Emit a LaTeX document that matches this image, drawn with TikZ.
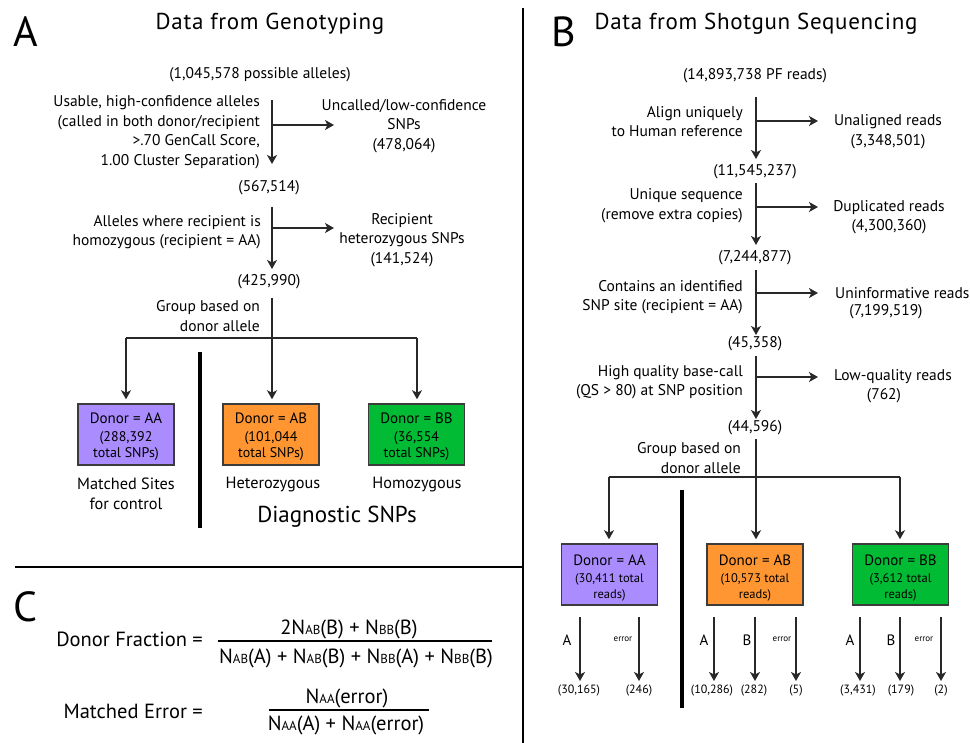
\documentclass[tikz,border=0pt]{standalone}
\usepackage{fontspec}
\setmainfont{PT Sans}
\usetikzlibrary{arrows.meta}
\definecolor{linec}{RGB}{40,40,40}
\definecolor{boxpurple}{RGB}{170,140,255}
\definecolor{boxorange}{RGB}{255,150,50}
\definecolor{boxgreen}{RGB}{0,187,51}
\definecolor{boxedge}{RGB}{60,60,60}
\newcommand\Nsb[1]{N{\fontsize{13}{13}\selectfont #1}}
\begin{document}
\begin{tikzpicture}[x=1pt,y=-1pt,
  txt/.style={font=\fontsize{15.5}{19.5}\selectfont, inner sep=0pt, text=black},
  ltxt/.style={txt, anchor=east, align=right},
  ctxt/.style={txt, align=center},
  small/.style={font=\fontsize{12}{15}\selectfont, inner sep=0pt},
  tiny/.style={font=\fontsize{9}{10}\selectfont, inner sep=0pt},
  big/.style={font=\fontsize{42}{44}\selectfont, inner sep=0pt, anchor=base},
  title/.style={font=\fontsize{23}{26}\selectfont\addfontfeature{LetterSpace=3}, inner sep=0pt, anchor=base},
  frm/.style={font=\fontsize{20.5}{24}\selectfont, inner sep=0pt},
  ln/.style={draw=linec, line width=1.4pt},
  arr/.style={ln, -{Stealth[length=9pt,width=10pt,inset=2.5pt]}},
  sep/.style={draw=black, line width=2.4pt},
  bar/.style={draw=black, line width=4pt},
  fbar/.style={draw=black, line width=1.2pt},
  donor/.style={draw=boxedge, line width=1.5pt, minimum width=96pt, minimum height=61pt, inner sep=0pt},
  dlab/.style={font=\fontsize{15}{17}\selectfont, inner sep=0pt},
  dsub/.style={font=\fontsize{14}{16}\selectfont, inner sep=0pt, align=center},
  dsubb/.style={font=\fontsize{12.5}{16}\selectfont, inner sep=0pt, align=center},
  under/.style={font=\fontsize{16.3}{19.5}\selectfont, inner sep=0pt, align=center}
]
\useasboundingbox (0,0) rectangle (970,743);

% ---------- separators ----------
\coordinate (vsT) at (523,8);
\coordinate (vsB) at (523,743);
\coordinate (hsL) at (15,567);
\coordinate (hsR) at (523,567);
\draw[sep] (vsT) -- (vsB);
\draw[sep] (hsL) -- (hsR);

% ================= PANEL A =================
\node[big] (lA) at (26,47) {A};
\node[title] (tA) at (270,30) {Data from Genotyping};
\node[txt] (a0) at (260,75) {(1,045,578 possible alleles)};

\coordinate (a1s) at (272,100);
\coordinate (a1e) at (272,164);
\coordinate (a1b) at (272,125);
\coordinate (a1r) at (334,125);
\draw[arr] (a1s) -- (a1e);
\draw[arr] (a1b) -- (a1r);
\node[ltxt] (a1l) at (260,132) {Usable, high-confidence alleles\\(called in both donor/recipient\\>.70 GenCall Score,\\1.00 Cluster Separation)};
\node[ctxt] (a1x) at (404,126) {Uncalled/low-confidence\\SNPs\\(478,064)};

\node[txt] (a1n) at (269,188) {(567,514)};

\coordinate (a2s) at (272,207);
\coordinate (a2e) at (272,269);
\coordinate (a2b) at (272,228);
\coordinate (a2r) at (334,228);
\draw[arr] (a2s) -- (a2e);
\draw[arr] (a2b) -- (a2r);
\node[ltxt] (a2l) at (261,232) {Alleles where recipient is\\homozygous (recipient = AA)};
\node[ctxt] (a2x) at (402,240) {Recipient\\heterozygous SNPs\\(141,524)};

\node[txt] (a2n) at (269,282) {(425,990)};

\coordinate (a3s) at (272,298);
\coordinate (a3L) at (126,338);
\coordinate (a3R) at (417,338);
\node[ltxt] (a3l) at (260,316) {Group based on\\donor allele};

\node[donor, fill=boxpurple] (aAA) at (126,434.5) {};
\node[donor, fill=boxorange] (aAB) at (271,434.5) {};
\node[donor, fill=boxgreen]  (aBB) at (416.5,434.5) {};
\draw[ln] (a3L) -- (a3R);
\draw[arr] (a3s) -- ([yshift=4pt]aAB.north -| a3s);
\draw[arr] (a3L) -- ([yshift=4pt]aAA.north -| a3L);
\draw[arr] (a3R) -- ([yshift=4pt]aBB.north -| a3R);

\node[dlab] (aAAt) at (126,418) {Donor = AA};
\node[dsub] (aAAs) at (126,446) {(288,392\\total SNPs)};
\node[dlab] (aABt) at (271,418) {Donor = AB};
\node[dsub] (aABs) at (271,446) {(101,044\\total SNPs)};
\node[dlab] (aBBt) at (416.5,418) {Donor = BB};
\node[dsub] (aBBs) at (416.5,446) {(36,554\\total SNPs)};

\node[under] (aMS) at (126,494) {Matched Sites\\for control};
\node[under] (aHet) at (273,485) {Heterozygous};
\node[under] (aHom) at (417,485) {Homozygous};
\node[font=\fontsize{23}{25}\selectfont, inner sep=0pt] (aDiag) at (337,517) {Diagnostic SNPs};

\coordinate (abT) at (200,352);
\coordinate (abB) at (200,528);
\draw[bar] (abT) -- (abB);

% ================= PANEL C =================
\node[big] (lC) at (25,621) {C};
\node[frm, anchor=east] (cDF) at (203,639) {Donor Fraction =};
\coordinate (cb1L) at (218,641);
\coordinate (cb1R) at (492,641);
\draw[fbar] (cb1L) -- (cb1R);
\node[frm] (cN1) at (349,629) {2\Nsb{AB}(B) + \Nsb{BB}(B)};
\node[frm] (cD1) at (356,658) {\Nsb{AB}(A) + \Nsb{AB}(B) + \Nsb{BB}(A) + \Nsb{BB}(B)};

\node[frm, anchor=east] (cME) at (203,711) {Matched Error =};
\coordinate (cb2L) at (269,710);
\coordinate (cb2R) at (429,710);
\draw[fbar] (cb2L) -- (cb2R);
\node[frm] (cN2) at (347,698) {\Nsb{AA}(error)};
\node[frm] (cD2) at (346,725) {\Nsb{AA}(A) + \Nsb{AA}(error)};

% ================= PANEL B =================
\node[big] (lB) at (564,47) {B};
\node[title] (tB) at (756,30) {Data from Shotgun Sequencing};
\node[txt] (b0) at (755,76) {(14,893,738 PF reads)};

% seg 1
\coordinate (b1s) at (756,97);
\coordinate (b1e) at (756,159);
\coordinate (b1b) at (756,121);
\coordinate (b1r) at (818,121);
\draw[arr] (b1s) -- (b1e);
\draw[arr] (b1b) -- (b1r);
\node[ltxt] (b1l) at (743,121.5) {Align uniquely\\to Human reference};
\node[ctxt] (b1x) at (888,131.5) {Unaligned reads\\(3,348,501)};
\node[txt] (b1n) at (755,172) {(11,545,237)};

% seg 2
\coordinate (b2s) at (756,183);
\coordinate (b2e) at (756,245);
\coordinate (b2b) at (756,207);
\coordinate (b2r) at (818,207);
\draw[arr] (b2s) -- (b2e);
\draw[arr] (b2b) -- (b2r);
\node[ltxt] (b2l) at (743,205.5) {Unique sequence\\(remove extra copies)};
\node[ctxt] (b2x) at (889,217) {Duplicated reads\\(4,300,360)};
\node[txt] (b2n) at (755,258) {(7,244,877)};

% seg 3
\coordinate (b3s) at (756,270);
\coordinate (b3e) at (756,335);
\coordinate (b3b) at (756,293);
\coordinate (b3r) at (818,293);
\draw[arr] (b3s) -- (b3e);
\draw[arr] (b3b) -- (b3r);
\node[ltxt] (b3l) at (743,297) {Contains an identified\\SNP site (recipient = AA)};
\node[txt, anchor=west] (b3x) at (835,293) {Uninformative reads};
\node[txt] (b3y) at (886,312) {(7,199,519)};
\node[txt] (b3n) at (755,344) {(45,358)};

% seg 4
\coordinate (b4s) at (756,356);
\coordinate (b4e) at (756,419);
\coordinate (b4b) at (756,377);
\coordinate (b4r) at (818,377);
\draw[arr] (b4s) -- (b4e);
\draw[arr] (b4b) -- (b4r);
\node[ltxt] (b4l) at (743,382) {High quality base-call\\(QS > 80) at SNP position};
\node[txt] (b4x) at (893,377) {Low-quality reads};
\node[txt] (b4y) at (884,396) {(762)};
\node[txt] (b4n) at (755,428) {(44,596)};

% seg 5
\coordinate (b5s) at (756,439);
\coordinate (b5L) at (609,477);
\coordinate (b5R) at (900,477);
\node[ltxt] (b5l) at (741,458) {Group based on\\donor allele};

\node[donor, fill=boxpurple] (bAA) at (609.5,574.5) {};
\node[donor, fill=boxorange] (bAB) at (755,574.5) {};
\node[donor, fill=boxgreen]  (bBB) at (900.5,574.5) {};
\draw[ln] (b5L) -- (b5R);
\draw[arr] (b5s) -- ([yshift=4pt]bAB.north -| b5s);
\draw[arr] (b5L) -- ([yshift=4pt]bAA.north -| b5L);
\draw[arr] (b5R) -- ([yshift=4pt]bBB.north -| b5R);

\node[dlab] (bAAt) at (609.5,560) {Donor = AA};
\node[dsubb] (bAAs) at (609.5,587) {(30,411 total\\reads)};
\node[dlab] (bABt) at (755,560) {Donor = AB};
\node[dsubb] (bABs) at (755,587) {(10,573 total\\reads)};
\node[dlab] (bBBt) at (900.5,560) {Donor = BB};
\node[dsubb] (bBBs) at (900.5,587) {(3,612 total\\reads)};

\coordinate (bbT) at (682,490);
\coordinate (bbB) at (682,708);
\draw[bar] (bbT) -- (bbB);

% sub arrows
\foreach \nm/\x in {s1/580, s2/639, s3/714, s4/755, s5/796, s6/860, s7/900, s8/941}{
  \coordinate (\nm t) at (\x,617);
  \coordinate (\nm b) at (\x,681);
  \draw[arr] (\nm t) -- (\nm b);
}
\node[txt, font=\fontsize{15}{17}\selectfont] (la1) at (567,640) {A};
\node[tiny] (le1) at (623,639) {error};
\node[txt, font=\fontsize{15}{17}\selectfont] (la2) at (704,640) {A};
\node[txt, font=\fontsize{15}{17}\selectfont] (lb2) at (747,640) {B};
\node[tiny] (le2) at (782,639) {error};
\node[txt, font=\fontsize{15}{17}\selectfont] (la3) at (850,640) {A};
\node[txt, font=\fontsize{15}{17}\selectfont] (lb3) at (891,640) {B};
\node[tiny] (le3) at (924,639) {error};

\node[small] (v1) at (579,691) {(30,165)};
\node[small] (v2) at (639,691) {(246)};
\node[small] (v3) at (712,691) {(10,286)};
\node[small] (v4) at (754,691) {(282)};
\node[small] (v5) at (796,691) {(5)};
\node[small] (v6) at (858,691) {(3,431)};
\node[small] (v7) at (901,691) {(179)};
\node[small] (v8) at (941,691) {(2)};
\end{tikzpicture}
\end{document}
